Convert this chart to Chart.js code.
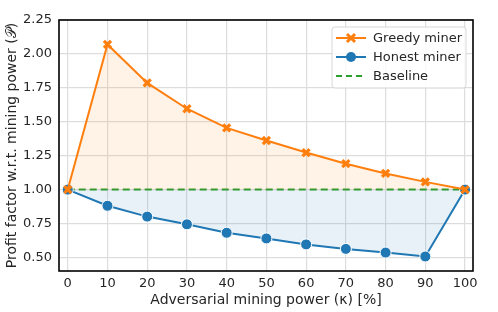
<!DOCTYPE html>
<html>
<head>
<meta charset="utf-8">
<script src="https://cdn.jsdelivr.net/npm/chart.js@4"></script>
<style>
  html, body { margin: 0; padding: 0; background: #fff; }
  #wrap { width: 498px; height: 312px; }
</style>
</head>
<body>
<div id="wrap"><canvas id="chart" width="498" height="312"></canvas></div>
<script>
const power = [0, 10, 20, 30, 40, 50, 60, 70, 80, 90, 100];
const greedy = [1.00, 2.07, 1.786, 1.596, 1.455, 1.362, 1.273, 1.191, 1.119, 1.057, 1.00];
const honest = [1.00, 0.881, 0.801, 0.744, 0.682, 0.640, 0.596, 0.563, 0.536, 0.507, 1.00];
const baseline = [1, 1, 1, 1, 1, 1, 1, 1, 1, 1, 1];
const yTicks = [0.5, 0.75, 1.0, 1.25, 1.5, 1.75, 2.0, 2.25];

const ORANGE = '#ff7f0e', BLUE = '#1f77b4', GREEN = '#2ca02c';
const FONT = "'DejaVu Sans', sans-serif";
const pts = arr => power.map((x, i) => ({ x: x, y: arr[i] }));

// frame all four sides + draw legend (line + marker samples)
const framePlugin = {
    id: 'frame',
    afterDraw(chart) {
        const { ctx, chartArea: a } = chart;
        ctx.save();
        ctx.strokeStyle = '#000';
        ctx.lineWidth = 1.6;
        ctx.strokeRect(a.left, a.top, a.right - a.left, a.bottom - a.top);

        // legend
        const bx = 332, by = 27, bw = 134, bh = 61;
        ctx.beginPath();
        ctx.roundRect(bx, by, bw, bh, 3);
        ctx.fillStyle = 'rgba(255,255,255,0.85)';
        ctx.fill();
        ctx.strokeStyle = '#d8d8d8';
        ctx.lineWidth = 1;
        ctx.stroke();

        const items = [
            { label: 'Greedy miner', color: ORANGE, marker: 'x' },
            { label: 'Honest miner', color: BLUE, marker: 'o' },
            { label: 'Baseline', color: GREEN, marker: null }
        ];
        items.forEach((it, i) => {
            const y = by + 11 + i * 19;
            ctx.strokeStyle = it.color;
            ctx.lineWidth = 2;
            ctx.setLineDash(it.marker ? [] : [6, 4]);
            ctx.beginPath();
            ctx.moveTo(336, y);
            ctx.lineTo(366, y);
            ctx.stroke();
            ctx.setLineDash([]);
            if (it.marker === 'x') {
                ctx.lineWidth = 3;
                ctx.beginPath();
                ctx.moveTo(347, y - 4); ctx.lineTo(355, y + 4);
                ctx.moveTo(355, y - 4); ctx.lineTo(347, y + 4);
                ctx.stroke();
            } else if (it.marker === 'o') {
                ctx.fillStyle = it.color;
                ctx.beginPath();
                ctx.arc(351, y, 5, 0, Math.PI * 2);
                ctx.fill();
            }
            ctx.fillStyle = '#262626';
            ctx.font = '13px ' + FONT;
            ctx.textBaseline = 'middle';
            ctx.fillText(it.label, 373, y + 1);
        });
        ctx.restore();
    }
};

new Chart(document.getElementById('chart'), {
    type: 'line',
    data: {
        datasets: [
            {
                label: 'Greedy miner',
                data: pts(greedy),
                borderColor: ORANGE,
                backgroundColor: ORANGE,
                borderWidth: 2,
                pointStyle: 'crossRot',
                pointRadius: 5,
                pointBorderWidth: 3.2,
                pointBorderColor: ORANGE,
                fill: { target: 2, above: 'rgba(255,127,14,0.1)', below: 'rgba(255,127,14,0.1)' },
                order: 0
            },
            {
                label: 'Honest miner',
                data: pts(honest),
                borderColor: BLUE,
                backgroundColor: BLUE,
                borderWidth: 2,
                pointStyle: 'circle',
                pointRadius: 5.5,
                pointBorderWidth: 1,
                pointBorderColor: '#fff',
                pointBackgroundColor: BLUE,
                fill: { target: 2, above: 'rgba(31,119,180,0.1)', below: 'rgba(31,119,180,0.1)' },
                order: 1
            },
            {
                label: 'Baseline',
                data: pts(baseline),
                borderColor: GREEN,
                borderWidth: 2,
                borderDash: [7, 4],
                pointRadius: 0,
                fill: false,
                order: 2
            }
        ]
    },
    options: {
        responsive: false,
        animation: false,
        layout: { padding: { top: 20, right: 25, left: 0, bottom: 0 } },
        plugins: {
            legend: { display: false },
            tooltip: { enabled: false }
        },
        scales: {
            x: {
                type: 'linear',
                min: -2.2,
                max: 102,
                afterBuildTicks: s => { s.ticks = power.map(v => ({ value: v })); },
                afterFit: s => { s.height = 41; },
                grid: { color: '#dddddd', lineWidth: 1.2, drawTicks: false },
                border: { display: false },
                ticks: { color: '#262626', font: { family: FONT, size: 13 }, padding: 5, maxRotation: 0 },
                title: {
                    display: true,
                    text: 'Adversarial mining power (\u03BA) [%]',
                    color: '#262626',
                    font: { family: FONT, size: 14 },
                    padding: { top: 0, bottom: 3 }
                }
            },
            y: {
                min: 0.4,
                max: 2.25,
                afterBuildTicks: s => { s.ticks = yTicks.map(v => ({ value: v })); },
                afterFit: s => { s.width = 59; },
                grid: { color: '#dddddd', lineWidth: 1.2, drawTicks: false },
                border: { display: false },
                ticks: {
                    color: '#262626',
                    font: { family: FONT, size: 13 },
                    padding: 7,
                    callback: v => v.toFixed(2)
                },
                title: {
                    display: true,
                    text: 'Profit factor w.r.t. mining power (\uD835\uDCAB)',
                    color: '#262626',
                    font: { family: FONT, size: 14 },
                    padding: { top: 4, bottom: 2 }
                }
            }
        }
    },
    plugins: [framePlugin]
});
</script>
</body>
</html>
